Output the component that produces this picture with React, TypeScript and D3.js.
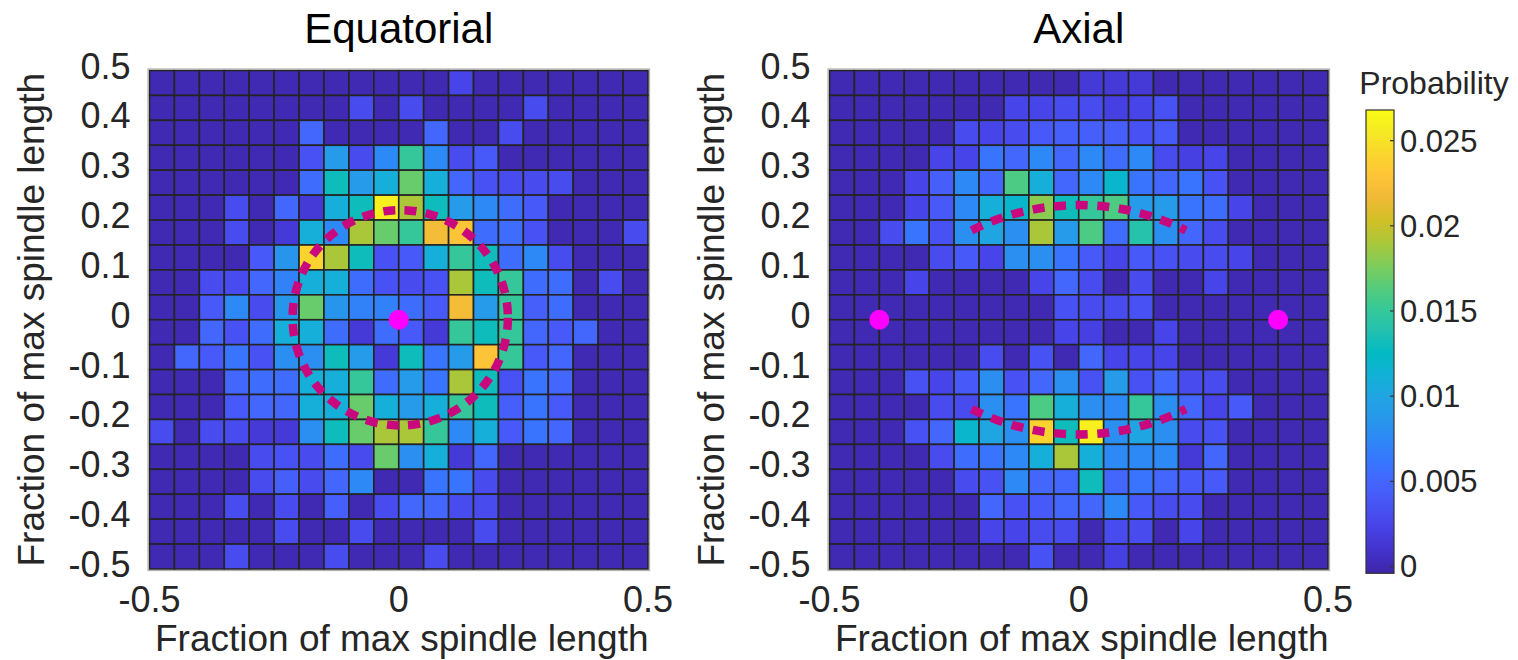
import React from "react";
import * as d3 from "d3";

// 20 x 20 bins, edges at -0.5 ... 0.5 (fraction of max spindle length)
const binEdges = d3.range(21).map((i) => -0.5 + i * 0.05);

// probability per bin, in units of 1e-3; rows go from top (y = 0.5) to bottom (y = -0.5)
const equatorialRows: number[][] = [
  [0, 0, 0, 0, 0, 0, 0, 0, 0, 0, 0, 0, 2.5, 0, 0, 0, 0, 0, 0, 0],
  [0, 0, 0, 0, 0, 0, 0, 0, 3, 0, 3, 0, 0, 0, 0, 3, 0, 0, 0, 0],
  [0, 0, 0, 0, 0, 0, 5, 0, 0, 0, 0, 5, 0, 0, 3, 0, 0, 0, 0, 0],
  [0, 0, 0, 0, 0, 0, 3.5, 9, 3, 7.5, 15, 7.5, 3, 4, 0, 0, 0, 0, 0, 0],
  [0, 0, 0, 0, 0, 0, 5.5, 13, 9, 11, 17, 11, 5, 3.5, 3, 3, 3, 0, 0, 0],
  [0, 0, 0, 3, 0, 5, 1.5, 11, 13, 26, 19, 13, 9, 7.5, 5.5, 4, 0, 0, 0, 0],
  [0, 0, 0, 3, 0, 1.5, 11, 7.5, 19, 17, 15, 22, 23, 5.5, 5.5, 3.5, 0, 0, 0, 3],
  [0, 0, 0, 0, 4, 8.5, 24, 19, 13, 3.5, 4, 11, 15, 13, 5.5, 7.5, 3, 0, 0, 0],
  [0, 0, 3, 3, 5, 7, 11, 11, 5.5, 3.5, 3, 3.5, 19, 13, 15, 5.5, 5.5, 0, 3, 0],
  [0, 0, 4, 7.5, 3, 8.5, 17, 8.5, 7, 7, 5.5, 4, 22, 9, 15, 4.5, 5.5, 0, 0, 0],
  [0, 0, 5, 3.5, 5.5, 11, 11, 5.5, 1.5, 5.5, 4, 1.5, 15, 13, 15, 5, 4, 5, 0, 0],
  [0, 5, 4, 6, 3.5, 8, 8, 13, 9, 1.5, 13, 6, 9, 23, 15, 4, 5, 0, 0, 0],
  [0, 0, 0, 5, 5.5, 5.5, 11, 11, 15, 5.5, 9, 6, 19, 13, 3.5, 6, 5, 0, 0, 0],
  [0, 0, 0, 4, 5, 5, 11, 11, 17, 11, 9, 11, 15, 13, 4.5, 6, 4, 0, 0, 0],
  [3, 0, 3, 3, 1.5, 1.5, 8, 13, 17, 19, 19, 15, 7.5, 11, 4, 6, 5, 0, 0, 0],
  [0, 0, 0, 0, 3, 3.5, 3, 5.5, 3, 17, 8, 11, 1.5, 5, 0, 0, 0, 0, 0, 0],
  [0, 0, 0, 0, 3, 4.5, 3, 5, 7.5, 0, 0, 6, 6, 3, 0, 0, 0, 0, 0, 0],
  [0, 0, 0, 3, 0, 3, 0, 4.5, 0, 3, 5, 5, 3, 3, 0, 0, 0, 0, 0, 0],
  [0, 0, 0, 0, 0, 3, 0, 0, 3, 0, 0, 0, 0, 3, 0, 0, 0, 0, 0, 0],
  [0, 0, 0, 3, 0, 0, 0, 3, 0, 0, 0, 3, 0, 0, 0, 0, 0, 0, 0, 0],
];

const axialRows: number[][] = [
  [0, 0, 0, 0, 0, 0, 0, 0, 0, 0, 1.5, 1.5, 1.5, 0, 0, 0, 0, 0, 0, 0],
  [0, 0, 0, 0, 0, 0, 0, 2.5, 2.5, 3, 3, 2, 2.5, 3.5, 0, 0, 0, 0, 0, 0],
  [0, 0, 0, 0, 0, 3, 2.5, 3, 4, 4.5, 4.5, 4.5, 3.5, 4, 0, 0, 0, 0, 0, 0],
  [0, 0, 0, 0, 2.5, 2.5, 6, 5, 7.5, 5, 7.5, 5.5, 7.5, 3, 2, 2.5, 0, 0, 0, 0],
  [0, 0, 0, 2.5, 4.5, 7.5, 5, 16, 11, 5, 7.5, 12, 6, 5, 6, 3.5, 0, 0, 0, 0],
  [0, 0, 0, 2.5, 4, 7.5, 11, 12, 18, 13, 15, 16, 9, 9, 6, 5.5, 2.5, 0, 0, 0],
  [0, 0, 3, 6, 3.5, 8, 10, 8, 19, 9, 16, 5.5, 14, 8, 5, 3, 0, 0, 0, 0],
  [0, 0, 0, 0, 3, 4, 2.5, 8, 8, 6, 4, 2.5, 4, 3.5, 3, 3, 2.5, 0, 0, 0],
  [0, 0, 0, 2.5, 0, 0, 0, 0, 2.5, 5, 3, 0, 3, 0, 0, 2.5, 0, 0, 0, 0],
  [0, 0, 0, 0, 0, 0, 0, 0, 0, 3.5, 3, 3, 3.5, 0, 0, 0, 0, 0, 0, 0],
  [0, 0, 0, 0, 0, 0, 0, 0, 0, 2.5, 2, 0, 0, 2.5, 0, 0, 0, 0, 0, 0],
  [0, 0, 0, 0, 0, 0, 3, 0, 3.5, 0, 5, 2.5, 2.5, 2.5, 0, 0, 0, 0, 0, 0],
  [0, 0, 0, 3.5, 2.5, 4, 8, 3.5, 5, 8, 3.5, 9, 3.5, 5, 3, 3, 0, 0, 0, 0],
  [0, 0, 0, 0, 3, 3, 8, 6, 16, 11, 8, 7.5, 15, 8, 5, 2.5, 4, 0, 0, 0],
  [0, 0, 0, 3.5, 5, 12, 10, 8, 24, 13, 26, 8, 10, 8, 3, 3.5, 0, 0, 0, 0],
  [0, 0, 0, 0, 3, 5.5, 6, 7.5, 11, 19, 11, 7.5, 7.5, 7.5, 1.5, 5, 0, 0, 0, 0],
  [0, 0, 0, 0, 0, 3, 3.5, 7.5, 5, 5, 13, 5, 6, 5, 4, 4, 0, 0, 0, 0],
  [0, 0, 0, 0, 0, 0, 5, 3.5, 4, 5, 5, 7.5, 4, 3, 3, 0, 0, 0, 0, 0],
  [0, 0, 0, 0, 0, 0, 2.5, 2.5, 3, 3, 0, 3, 3, 0, 2.5, 0, 0, 0, 0, 0],
  [0, 0, 0, 0, 0, 0, 0, 0, 3.5, 0, 0, 2, 0, 0, 0, 0, 0, 0, 0, 0],
];

const yTicks = [0.5, 0.4, 0.3, 0.2, 0.1, 0, -0.1, -0.2, -0.3, -0.4, -0.5];
const yTickLabels = ["0.5", "0.4", "0.3", "0.2", "0.1", "0", "-0.1", "-0.2", "-0.3", "-0.4", "-0.5"];
const xTicks = [-0.5, 0, 0.5];
const xTickLabels = ["-0.5", "0", "0.5"];
const cbarTicks = [0, 0.005, 0.01, 0.015, 0.02, 0.025];
const cbarTickLabels = ["0", "0.005", "0.01", "0.015", "0.02", "0.025"];
const colorLimits: [number, number] = [-0.0004, 0.0268];

// overlays (data units)
const equatorialRing = { cx: 0.003, cy: 0.004, r: 0.216 };
const equatorialPoles = [[0, 0]];
const axialArcs = [
  { cy: -0.25, r: 0.48, half: 0.215, up: true },
  { cy: 0.25, r: 0.48, half: 0.215, up: false },
];
const axialPoles = [[-0.4, 0], [0.4, 0]];

// parula colormap (sampled)
const parulaStops = [
  "#3e26a8", "#4332cb", "#4741e5", "#4852f4", "#4563fd", "#3875fe", "#2e87f7", "#2797eb",
  "#20a5e3", "#12b1d6", "#02bac3", "#24c1af", "#37c897", "#57cc7a", "#81cc59", "#abc739",
  "#d1bf27", "#f0ba36", "#fec338", "#fad62d", "#f5e924", "#f9fb15",
];
const parula = d3.piecewise(d3.interpolateRgb, parulaStops);
const color = d3.scaleSequential(parula).domain(colorLimits).clamp(true);

const FONT = "'Liberation Sans', Arial, Helvetica, sans-serif";
const TEXT = "#262626";
const MAGENTA = "#ff00ff";
const DASH = "#c8087c";

const plotTop = 70.5;
const plotSize = 498.5;

function Panel({ left, title, rows, overlay }: { left: number; title: string; rows: number[][]; overlay: "ring" | "arcs" }) {
  const x = d3.scaleLinear().domain([-0.5, 0.5]).range([left, left + plotSize]);
  const y = d3.scaleLinear().domain([-0.5, 0.5]).range([plotTop + plotSize, plotTop]);
  const n = binEdges.length - 1;
  const cx = (left + left + plotSize) / 2;
  const cy = plotTop + plotSize / 2;
  const k = x(1) - x(0);

  return (
    <g>
      <text x={cx} y={43} textAnchor="middle" fontSize={42} fill="#000">{title}</text>
      {rows.map((row, ri) =>
        row.map((v, ci) => (
          <rect
            key={`${ri}-${ci}`}
            x={x(binEdges[ci])}
            y={y(binEdges[n - ri])}
            width={x(binEdges[ci + 1]) - x(binEdges[ci])}
            height={y(binEdges[n - ri - 1]) - y(binEdges[n - ri])}
            fill={color(v * 1e-3)}
            stroke="#242424"
            strokeWidth={1.6}
          />
        ))
      )}
      <rect x={left - 1.5} y={plotTop - 1.5} width={plotSize + 3} height={plotSize + 3} fill="none" stroke="#b0b0b0" strokeWidth={1.2} />

      {overlay === "ring" && (
        <circle
          cx={x(equatorialRing.cx)}
          cy={y(equatorialRing.cy)}
          r={equatorialRing.r * k}
          fill="none"
          stroke={DASH}
          strokeWidth={8.5}
          strokeDasharray="12 9.3"
        />
      )}
      {overlay === "arcs" &&
        axialArcs.map((a, i) => {
          const dy = Math.sqrt(a.r * a.r - a.half * a.half);
          const yEnd = a.up ? a.cy + dy : a.cy - dy;
          const rp = a.r * k;
          const d = `M${x(-a.half)},${y(yEnd)} A${rp},${rp} 0 0 ${a.up ? 1 : 0} ${x(a.half)},${y(yEnd)}`;
          return <path key={i} d={d} fill="none" stroke={DASH} strokeWidth={8.5} strokeDasharray="12 9.6" />;
        })}
      {(overlay === "ring" ? equatorialPoles : axialPoles).map((p, i) => (
        <circle key={i} cx={x(p[0])} cy={y(p[1])} r={10} fill={MAGENTA} />
      ))}

      {yTicks.map((t, i) => (
        <text key={t} x={left - 19} y={y(t) + 8} textAnchor="end" fontSize={36} fill={TEXT}>
          {yTickLabels[i]}
        </text>
      ))}
      {xTicks.map((t, i) => (
        <text key={t} x={x(t)} y={611.5} textAnchor="middle" fontSize={36} fill={TEXT}>
          {xTickLabels[i]}
        </text>
      ))}
      <text x={cx + 3} y={651} textAnchor="middle" fontSize={37} fill={TEXT}>
        Fraction of max spindle length
      </text>
      <text
        transform={`translate(${left - 106},${cy}) rotate(-90)`}
        textAnchor="middle"
        fontSize={37}
        fill={TEXT}
      >
        Fraction of max spindle length
      </text>
    </g>
  );
}

function Colorbar() {
  const x0 = 1366;
  const w = 28;
  const yTop = 110;
  const yBot = 573.3;
  const s = d3.scaleLinear().domain(colorLimits).range([yBot, yTop]);
  return (
    <g>
      <defs>
        <linearGradient id="parula" x1="0" y1="1" x2="0" y2="0">
          {parulaStops.map((c, i) => (
            <stop key={i} offset={i / (parulaStops.length - 1)} stopColor={c} />
          ))}
        </linearGradient>
      </defs>
      <text x={1434} y={94} textAnchor="middle" fontSize={32} fill={TEXT}>Probability</text>
      <rect x={x0} y={yTop} width={w} height={yBot - yTop} fill="url(#parula)" stroke="#333" strokeWidth={1.2} />
      {cbarTicks.map((t, i) => (
        <g key={t}>
          <line x1={x0 + w - 4} x2={x0 + w} y1={s(t)} y2={s(t)} stroke="#333" strokeWidth={1.2} />
          <text x={x0 + w + 6} y={s(t) + 11} fontSize={31} fill={TEXT}>
            {cbarTickLabels[i]}
          </text>
        </g>
      ))}
    </g>
  );
}

export default function App() {
  return (
    <div style={{ position: "absolute", left: 0, top: 0 }}>
      <svg width={1518} height={660} style={{ display: "block", background: "#fff", fontFamily: FONT }}>
        <Panel left={149.5} title="Equatorial" rows={equatorialRows} overlay="ring" />
        <Panel left={829.5} title="Axial" rows={axialRows} overlay="arcs" />
        <Colorbar />
      </svg>
    </div>
  );
}
